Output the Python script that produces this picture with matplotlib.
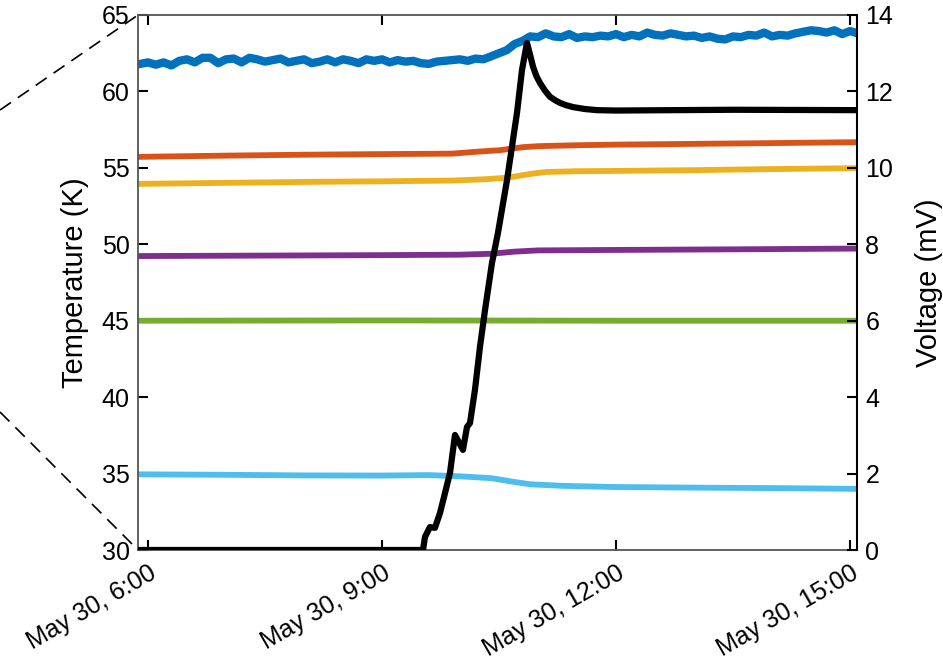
import matplotlib
matplotlib.use('Agg')
import matplotlib.pyplot as plt
from matplotlib.lines import Line2D
from datetime import datetime, timedelta

plt.rcParams['font.family'] = ['Liberation Sans', 'DejaVu Sans']

# ---------------- data (hours after midnight, May 30) ----------------
blue_t = [5.9, 6.0, 6.1, 6.2, 6.3, 6.4, 6.5, 6.6, 6.7, 6.8, 6.9, 7.0, 7.1, 7.2, 7.3, 7.4,
          7.5, 7.6, 7.7, 7.8, 7.9, 8.0, 8.1, 8.2, 8.3, 8.4, 8.5, 8.6, 8.7, 8.8, 8.9, 9.0,
          9.1, 9.2, 9.3, 9.4, 9.5, 9.6, 9.7, 9.8, 9.9, 10.0, 10.1, 10.2, 10.3, 10.4, 10.5,
          10.6, 10.7, 10.8, 10.9, 11.0, 11.1, 11.2, 11.3, 11.4, 11.5, 11.6, 11.7, 11.8,
          11.9, 12.0, 12.1, 12.2, 12.3, 12.4, 12.5, 12.6, 12.7, 12.8, 12.9, 13.0, 13.1,
          13.2, 13.3, 13.4, 13.5, 13.6, 13.7, 13.8, 13.9, 14.0, 14.1, 14.2, 14.3, 14.4,
          14.5, 14.6, 14.7, 14.8, 14.9, 15.0, 15.1]
blue_T = [61.8, 61.9, 61.75, 61.9, 61.7, 62.0, 62.1, 61.9, 62.2, 62.2, 61.85, 62.1, 62.15,
          61.9, 62.2, 62.1, 61.95, 62.05, 62.15, 61.9, 62.0, 62.1, 61.85, 61.95, 62.1, 61.9,
          62.1, 62.0, 61.85, 62.1, 62.0, 62.1, 61.9, 62.05, 61.95, 62.0, 61.85, 61.8, 61.95,
          62.0, 62.05, 62.1, 62.0, 62.15, 62.1, 62.3, 62.5, 62.7, 63.1, 63.3, 63.6, 63.55,
          63.8, 63.6, 63.55, 63.75, 63.5, 63.6, 63.55, 63.65, 63.6, 63.75, 63.55, 63.7, 63.6,
          63.85, 63.7, 63.65, 63.8, 63.7, 63.6, 63.65, 63.5, 63.6, 63.45, 63.4, 63.6, 63.55,
          63.7, 63.65, 63.85, 63.6, 63.7, 63.65, 63.8, 63.9, 64.0, 63.95, 63.85, 64.0, 63.75,
          63.95, 63.8]

orange_t = [5.87, 7.0, 8.0, 9.0, 9.9, 10.2, 10.5, 10.8, 11.0, 11.5, 12.0, 13.0, 14.0, 15.09]
orange_T = [55.72, 55.8, 55.86, 55.9, 55.93, 56.05, 56.15, 56.35, 56.42, 56.48, 56.52, 56.57, 56.62, 56.68]

yellow_t = [5.87, 7.0, 8.0, 9.0, 9.9, 10.3, 10.6, 10.9, 11.1, 11.5, 12.0, 13.0, 14.0, 15.09]
yellow_T = [53.95, 54.02, 54.08, 54.12, 54.17, 54.25, 54.35, 54.6, 54.73, 54.78, 54.8, 54.85, 54.92, 54.98]

purple_t = [5.87, 8.0, 9.0, 10.0, 10.4, 10.7, 11.0, 12.0, 13.5, 15.09]
purple_T = [49.23, 49.27, 49.29, 49.32, 49.38, 49.52, 49.6, 49.63, 49.67, 49.72]

green_t = [5.87, 9.0, 12.0, 15.09]
green_T = [45.0, 45.02, 45.0, 45.0]

cyan_t = [5.87, 7.0, 8.0, 9.0, 9.6, 10.0, 10.4, 10.7, 10.9, 11.3, 12.0, 13.0, 14.0, 15.09]
cyan_T = [34.95, 34.92, 34.88, 34.87, 34.9, 34.82, 34.7, 34.45, 34.3, 34.2, 34.12, 34.08, 34.05, 34.0]

volt_t = [5.87, 9.526, 9.551, 9.615, 9.679, 9.744, 9.808, 9.872, 9.936, 10.038, 10.09,
          10.128, 10.192, 10.256, 10.321, 10.41, 10.487, 10.603, 10.731, 10.795, 10.859,
          10.9, 10.936, 10.98, 11.026, 11.09, 11.154, 11.22, 11.282, 11.36, 11.449,
          11.6, 11.756, 12.0, 13.5, 15.09]
volt_V = [0.0, 0.0, 0.34, 0.6, 0.58, 0.97, 1.49, 2.02, 3.01, 2.62, 3.22,
          3.32, 4.19, 5.31, 6.28, 7.51, 8.3, 9.68, 11.44, 12.56, 13.27,
          12.95, 12.65, 12.4, 12.22, 12.02, 11.86, 11.77, 11.7, 11.64, 11.59,
          11.54, 11.51, 11.5, 11.52, 11.51]

tick_hours = [6, 9, 12, 15]
tick_labels = ['May 30, 6:00', 'May 30, 9:00', 'May 30, 12:00', 'May 30, 15:00']
x_range = [5.872, 15.09]
temp_ticks = [30, 35, 40, 45, 50, 55, 60, 65]
volt_ticks = [0, 2, 4, 6, 8, 10, 12, 14]

day = datetime(2019, 5, 30)
def to_dt(hours):
    return [day + timedelta(hours=h) for h in hours]

# ---------------- figure ----------------
fig = plt.figure(figsize=(9.43, 6.72), dpi=100)
ax = fig.add_axes([138/943, 1-550/672, 719/943, 535/672])
ax2 = ax.twinx()

lw = 4.2
ax.plot(to_dt(blue_t), blue_T, color='#0072BD', lw=6.0, solid_joinstyle='round')
ax.plot(to_dt(orange_t), orange_T, color='#D95319', lw=lw)
ax.plot(to_dt(yellow_t), yellow_T, color='#EDB120', lw=lw)
ax.plot(to_dt(purple_t), purple_T, color='#7E2F8E', lw=lw)
ax.plot(to_dt(green_t), green_T, color='#77AC30', lw=lw)
ax.plot(to_dt(cyan_t), cyan_T, color='#4DBEEE', lw=lw)
ax2.plot(to_dt(volt_t), volt_V, color='black', lw=4.5, solid_joinstyle='round')

ax.set_xlim(to_dt(x_range))
ax.set_ylim(30, 65)
ax2.set_ylim(0, 14)

ax.set_xticks(to_dt(tick_hours))
ax.set_xticklabels(tick_labels, rotation=30, ha='right', va='top', rotation_mode='anchor')
ax.set_yticks(temp_ticks)
ax2.set_yticks(volt_ticks)

spine_gray = '#555555'
for s in ['left', 'top', 'bottom']:
    ax.spines[s].set_color(spine_gray)
    ax.spines[s].set_linewidth(1.3)
ax.spines['right'].set_visible(False)
for s in ['left', 'top', 'bottom']:
    ax2.spines[s].set_visible(False)
ax2.spines['right'].set_color('black')
ax2.spines['right'].set_linewidth(1.5)

ax.tick_params(axis='x', direction='in', top=True, bottom=True, length=7, width=1.5,
               color='black', labelsize=18, pad=8)
ax.tick_params(axis='y', direction='in', left=True, right=False, length=7, width=1.5,
               color='black', labelsize=18, pad=6)
ax2.tick_params(axis='y', direction='in', right=True, left=False, length=7, width=1.5,
                color='black', labelsize=18, pad=6)

ax.set_ylabel('Temperature (K)', fontsize=21, labelpad=9)
ax2.set_ylabel('Voltage (mV)', fontsize=21, labelpad=16)

# zoom indicator dashed lines
for (x0, y0), (x1, y1) in [((0, 110), (138, 15)), ((0, 412), (138, 550))]:
    fig.add_artist(Line2D([x0/943, x1/943], [1-y0/672, 1-y1/672], transform=fig.transFigure,
                          color='black', lw=1.2, linestyle=(0, (8, 5))))

fig.savefig('out.png', dpi=100)
